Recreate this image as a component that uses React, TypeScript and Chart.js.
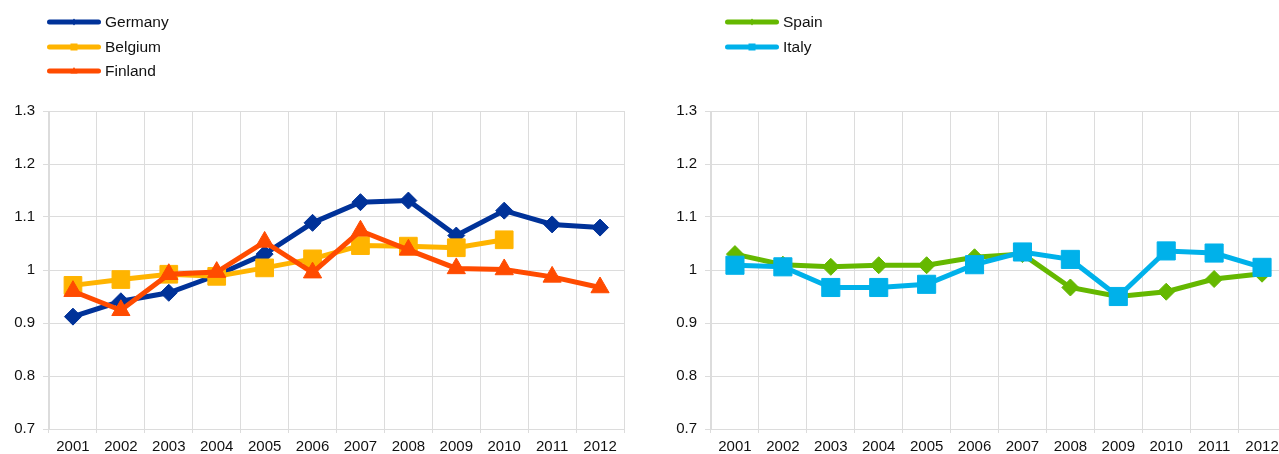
import React, { useEffect, useRef } from "react";
import { Chart, registerables } from "chart.js";

Chart.register(...registerables);

const years = ["2001", "2002", "2003", "2004", "2005", "2006", "2007", "2008", "2009", "2010", "2011", "2012"];
const germany = [0.912, 0.941, 0.957, 0.99, 1.03, 1.089, 1.128, 1.131, 1.065, 1.112, 1.086, 1.08];
const belgium = [0.971, 0.982, 0.992, 0.988, 1.004, 1.021, 1.046, 1.045, 1.042, 1.057, null, null];
const finland = [0.96, 0.924, 0.992, 0.996, 1.053, 0.995, 1.074, 1.038, 1.003, 1.001, 0.987, 0.967];
const spain = [1.03, 1.01, 1.006, 1.009, 1.009, 1.024, 1.03, 0.967, 0.95, 0.959, 0.983, 0.993];
const italy = [1.009, 1.006, 0.967, 0.967, 0.973, 1.01, 1.034, 1.02, 0.95, 1.036, 1.032, 1.005];
const yTicks = [0.7, 0.8, 0.9, 1.0, 1.1, 1.2, 1.3];

const FONT = "'Liberation Sans', Arial, Helvetica, sans-serif";
const C_GERMANY = "#003299";
const C_BELGIUM = "#ffb400";
const C_FINLAND = "#ff4b00";
const C_SPAIN = "#65b800";
const C_ITALY = "#00b1ea";
const GRID = "#dcdcdc";
const TEXT = "#111111";

type Series = {
  label: string;
  data: (number | null)[];
  color: string;
  style: "rectRot" | "rect" | "triangle";
  radius: number;
  order: number;
};

function makeDataset(s: Series) {
  return {
    label: s.label,
    data: s.data,
    borderColor: s.color,
    backgroundColor: s.color,
    borderWidth: 5,
    pointStyle: s.style,
    pointRadius: s.radius,
    pointBorderWidth: 1,
    pointBorderColor: s.color,
    pointBackgroundColor: s.color,
    tension: 0,
    spanGaps: false,
    order: s.order,
    clip: false as any,
  };
}

function LineChart({ series, left }: { series: Series[]; left: number }) {
  const ref = useRef<HTMLCanvasElement | null>(null);
  useEffect(() => {
    if (!ref.current) return;
    const chart = new Chart(ref.current, {
      type: "line",
      data: { labels: years, datasets: series.map(makeDataset) as any },
      options: {
        responsive: false,
        animation: false,
        devicePixelRatio: 1,
        layout: { padding: { top: 111, right: 16, bottom: 0, left: 0 } },
        plugins: { legend: { display: false }, tooltip: { enabled: false } },
        scales: {
          x: {
            type: "category",
            offset: true,
            grid: { offset: true, color: GRID, lineWidth: 1, tickLength: 4, drawTicks: true },
            border: { color: GRID, width: 1 },
            ticks: {
              color: TEXT,
              font: { family: FONT, size: 15 },
              padding: 5,
              maxRotation: 0,
              autoSkip: false,
            },
            afterFit: (s: any) => {
              s.height = 25;
            },
          },
          y: {
            min: 0.7,
            max: 1.3,
            grid: { color: GRID, lineWidth: 1, tickLength: 6 },
            border: { color: GRID, width: 1 },
            ticks: {
              color: TEXT,
              font: { family: FONT, size: 15 },
              padding: 8,
              callback: (v: any) => String(Math.round(Number(v) * 10) / 10),
            },
            afterBuildTicks: (s: any) => {
              s.ticks = yTicks.map((v) => ({ value: v }));
            },
            afterFit: (s: any) => {
              s.width = 49;
            },
          },
        },
      } as any,
    });
    return () => chart.destroy();
  }, []);
  return (
    <canvas
      ref={ref}
      width={640}
      height={454}
      style={{ position: "absolute", left, top: 0, width: 640, height: 454 }}
    />
  );
}

function Marker({ style, color }: { style: string; color: string }) {
  if (style === "rect") return <rect x={25.5} y={2.5} width={7} height={7} fill={color} />;
  if (style === "triangle") return <polygon points="29,2 32.5,8.5 25.5,8.5" fill={color} />;
  return <polygon points="29,2.5 31.5,6 29,9.5 26.5,6" fill={color} />;
}

function LegendItem({ s, x, cy }: { s: Series; x: number; cy: number }) {
  return (
    <div style={{ position: "absolute", left: x, top: cy - 9, height: 18, display: "flex", alignItems: "center" }}>
      <svg width={58} height={12} style={{ display: "block" }}>
        <line x1={4.5} y1={6} x2={53.5} y2={6} stroke={s.color} strokeWidth={5} strokeLinecap="round" />
        <Marker style={s.style} color={s.color} />
      </svg>
      <span
        style={{
          marginLeft: 2,
          font: `15.5px ${FONT}`,
          color: TEXT,
          lineHeight: "18px",
          whiteSpace: "nowrap",
        }}
      >
        {s.label}
      </span>
    </div>
  );
}

const leftSeries: Series[] = [
  { label: "Germany", data: germany, color: C_GERMANY, style: "rectRot", radius: 8.5, order: 3 },
  { label: "Belgium", data: belgium, color: C_BELGIUM, style: "rect", radius: 12.5, order: 2 },
  { label: "Finland", data: finland, color: C_FINLAND, style: "triangle", radius: 10.5, order: 1 },
];
const rightSeries: Series[] = [
  { label: "Spain", data: spain, color: C_SPAIN, style: "rectRot", radius: 8.5, order: 2 },
  { label: "Italy", data: italy, color: C_ITALY, style: "rect", radius: 12.8, order: 1 },
];

export default function App() {
  return (
    <div
      style={{
        position: "fixed",
        left: 0,
        top: 0,
        width: 1279,
        height: 454,
        overflow: "hidden",
        background: "#fff",
      }}
    >
      <LineChart series={leftSeries} left={0} />
      <LineChart series={rightSeries} left={662} />
      <LegendItem s={leftSeries[0]} x={45} cy={22} />
      <LegendItem s={leftSeries[1]} x={45} cy={46.5} />
      <LegendItem s={leftSeries[2]} x={45} cy={71} />
      <LegendItem s={rightSeries[0]} x={723} cy={22} />
      <LegendItem s={rightSeries[1]} x={723} cy={46.5} />
    </div>
  );
}
